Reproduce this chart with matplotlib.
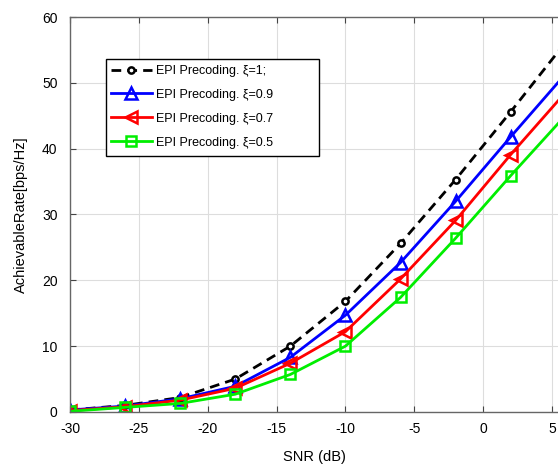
import numpy as np
import matplotlib
matplotlib.use('Agg')
import matplotlib.pyplot as plt
from matplotlib.patches import Rectangle

# SNR points (markers every 4 dB, last point only carries the line to the edge)
snr = [-30, -26, -22, -18, -14, -10, -6, -2, 2, 6]

rate_xi_1 = [0.3, 1.0, 2.2, 5.0, 10.0, 16.8, 25.6, 35.3, 45.6, 56.2]
rate_xi_09 = [0.3, 0.9, 2.0, 3.9, 8.3, 14.7, 22.7, 32.0, 41.8, 51.4]
rate_xi_07 = [0.2, 0.8, 1.8, 3.6, 7.4, 12.2, 20.2, 29.1, 39.1, 48.6]
rate_xi_05 = [0.1, 0.7, 1.3, 2.7, 5.7, 10.0, 17.4, 26.4, 35.9, 45.1]

labels = ['EPI Precoding. ξ=1;', 'EPI Precoding. ξ=0.9',
          'EPI Precoding. ξ=0.7', 'EPI Precoding. ξ=0.5']

xticks = [-30, -25, -20, -15, -10, -5, 0, 5]
yticks = [0, 10, 20, 30, 40, 50, 60]

plt.rcParams['font.family'] = ['Liberation Sans', 'DejaVu Sans']
plt.rcParams['axes.unicode_minus'] = False

fig = plt.figure(figsize=(5.58, 4.66), dpi=100)
ax = fig.add_axes([0.1254, 0.1159, 0.8762, 0.8476])

marks = list(range(9))
ax.plot(snr, rate_xi_1, '--o', color='black', lw=2, ms=4.5, mfc='white',
        mew=1.8, markevery=marks, dashes=(3.5, 2.2), label=labels[0])
ax.plot(snr, rate_xi_09, '-^', color='#0000ff', lw=2, ms=9, mfc='none',
        mew=1.8, markevery=marks, label=labels[1])
ax.plot(snr, rate_xi_07, '-<', color='#ff0000', lw=2, ms=9, mfc='none',
        mew=1.8, markevery=marks, label=labels[2])
ax.plot(snr, rate_xi_05, '-s', color='#00ee00', lw=2, ms=7, mfc='none',
        mew=1.8, markevery=marks, label=labels[3])

ax.set_xlim(-30, 5.5)
ax.set_ylim(0, 60)
ax.set_xticks(xticks)
ax.set_yticks(yticks)
ax.tick_params(axis='x', direction='in', top=True, labelsize=10,
               length=4, color='#444444', pad=7)
ax.tick_params(axis='y', direction='in', right=False, labelsize=10,
               length=4, color='#444444', pad=9)
ax.grid(True, color='#dddddd', lw=0.8)
ax.set_axisbelow(True)
for s in ax.spines.values():
    s.set_color('#666666')
    s.set_linewidth(1)

ax.set_xlabel('SNR (dB)', fontsize=10.5, labelpad=10)
ax.set_ylabel('AchievableRate[bps/Hz]', fontsize=10.5, labelpad=10)

# legend box (wide, MATLAB-style padding on the right)
ax.add_patch(Rectangle((0.0736, 0.648), 0.4357, 0.2456, transform=ax.transAxes,
                       facecolor='white', edgecolor='black', lw=1, zorder=4))
leg = ax.legend(loc='upper left', bbox_to_anchor=(0.078, 0.885),
                borderaxespad=0, fontsize=9, frameon=False,
                handlelength=3.3, handletextpad=0.35, labelspacing=0.95,
                borderpad=0.2)
leg.set_zorder(5)

fig.savefig('out.png', dpi=100)
